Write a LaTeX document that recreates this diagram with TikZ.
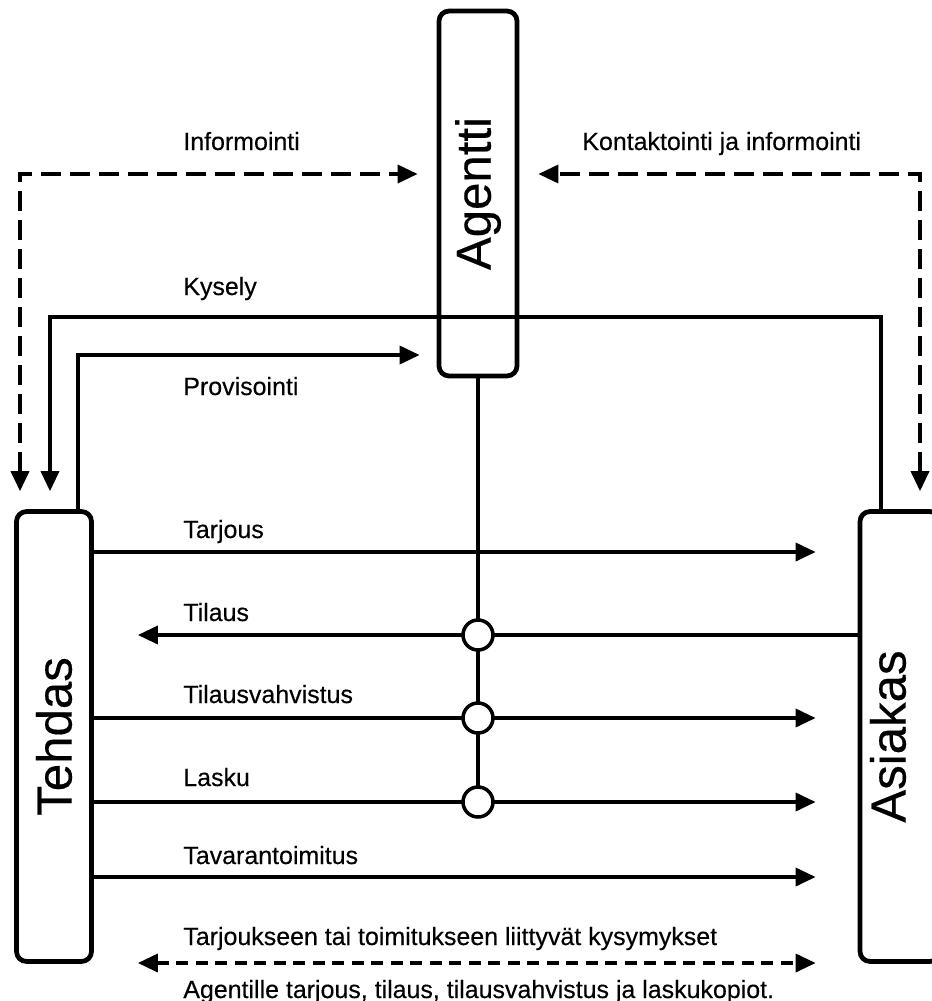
\documentclass[tikz,border=0pt]{standalone}
\usepackage{fontspec}
\setmainfont{Liberation Sans}[FakeBold=0.3]
\usetikzlibrary{arrows.meta}
\tikzset{
  ahead/.tip={Triangle[length=0.4cm, width=0.36cm]},
  entity/.style={draw, rounded corners=0.2cm, line width=2.7pt, inner sep=0pt, font=\fontsize{28}{34}\selectfont},
  bigtext/.style={inner sep=0pt, font=\fontsize{28}{34}\selectfont},
  line/.style={line width=2pt},
  arrow/.style={line, -ahead},
  infoline/.style={line, ahead-ahead, dash pattern=on 0.4cm off 0.18cm},
  askline/.style={line, ahead-ahead, dash pattern=on 0.24cm off 0.15cm},
  joint/.style={circle, draw, fill=white, line width=2pt, minimum size=0.6cm, inner sep=0pt},
  lbl/.style={anchor=base west, inner sep=0pt, font=\fontsize{14.2}{17}\selectfont}
}
\begin{document}
\begin{tikzpicture}[x=0.02cm, y=-0.02cm]
\useasboundingbox (0,0) rectangle (932,1001);

% parties
\node[entity, minimum width=1.56cm, minimum height=7.3cm] (agentti) at (478,193.5) {\rotatebox{90}{Agentti}};
\node[entity, minimum width=1.5cm, minimum height=9.0cm] (tehdas) at (54,736.5) {\rotatebox{90}{Tehdas}};
\node[entity, minimum width=1.6cm, minimum height=9.0cm] (asiakas) at (900,736.5) {};
\node[bigtext, rotate=90] (asiakasTxt) at (888,736.5) {Asiakas};

% levels
\coordinate (info) at (20,174);
\coordinate (kont) at (920,174);
\coordinate (kysR) at (881,317);
\coordinate (kysL) at (50,317);
\coordinate (prov) at (78,355);
\coordinate (p1) at (478,635);
\coordinate (p2) at (478,718);
\coordinate (p3) at (478,802);

% agent links
\draw[infoline, shorten <=0.36cm, shorten >=0.38cm] (tehdas.north -| info) |- (agentti.west |- info);
\draw[infoline, shorten <=0.36cm, shorten >=0.38cm] (asiakas.north -| kont) |- (agentti.east |- kont);
\draw[arrow, shorten >=0.36cm] (asiakas.north -| kysR) -- (kysR) -- (kysL) -- (tehdas.north -| kysL);
\draw[arrow, shorten >=0.34cm] (tehdas.north -| prov) |- (agentti.west |- prov);
\draw[line] (agentti.south) -- (p3);

% flows
\draw[arrow, shorten >=0.84cm] (tehdas.east |- 0,552) -- (asiakas.west |- 0,552);
\draw[arrow, shorten >=0.88cm] (asiakas.west |- p1) -- (tehdas.east |- p1);
\draw[arrow, shorten >=0.84cm] (tehdas.east |- p2) -- (asiakas.west |- p2);
\draw[arrow, shorten >=0.84cm] (tehdas.east |- p3) -- (asiakas.west |- p3);
\draw[arrow, shorten >=0.84cm] (tehdas.east |- 0,877) -- (asiakas.west |- 0,877);
\draw[askline, shorten <=0.88cm, shorten >=0.84cm] (tehdas.east |- 0,963) -- (asiakas.west |- 0,963);

\node[joint] (j1) at (p1) {};
\node[joint] (j2) at (p2) {};
\node[joint] (j3) at (p3) {};

% labels
\node[lbl] (lInfo) at (183,150) {Informointi};
\node[lbl] (lKont) at (582,150) {Kontaktointi ja informointi};
\node[lbl] (lKys) at (183,295) {Kysely};
\node[lbl] (lProv) at (183,395) {Provisointi};
\node[lbl] (lTarj) at (183,538) {Tarjous};
\node[lbl] (lTil) at (183,621) {Tilaus};
\node[lbl] (lVahv) at (183,703) {Tilausvahvistus};
\node[lbl] (lLasku) at (183,786) {Lasku};
\node[lbl] (lTav) at (183,864) {Tavarantoimitus};
\node[lbl] (lKysym) at (183,945) {Tarjoukseen tai toimitukseen liittyvät kysymykset};
\node[lbl] (lKopio) at (183,998) {Agentille tarjous, tilaus, tilausvahvistus ja laskukopiot.};
\end{tikzpicture}
\end{document}
